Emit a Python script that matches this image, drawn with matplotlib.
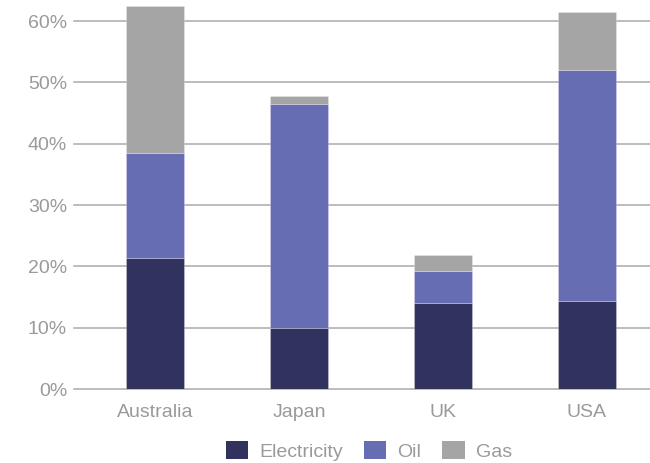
import matplotlib
matplotlib.use("Agg")
import matplotlib.pyplot as plt
import numpy as np
from matplotlib.ticker import FuncFormatter

countries = ["Australia", "Japan", "UK", "USA"]
electricity = [21.4, 9.9, 14.1, 14.3]
oil = [17.1, 36.5, 5.2, 37.7]
gas = [23.9, 1.3, 2.5, 9.5]
series_names = ["Electricity", "Oil", "Gas"]
colors = ["#31325e", "#666db2", "#a5a5a5"]
yticks = [0, 10, 20, 30, 40, 50, 60]

plt.rcParams['font.family'] = ['Liberation Sans', 'DejaVu Sans']

fig = plt.figure(figsize=(6.5, 4.63), dpi=100)
W, H = 650, 463
ax = fig.add_axes([74 / W, (H - 389) / H, (650 - 74) / W, 389 / H])

x = np.arange(len(countries))
bottom = np.zeros(len(countries))
for name, vals, c in zip(series_names, [electricity, oil, gas], colors):
    ax.bar(x, vals, width=0.396, bottom=bottom, color=c, label=name,
           edgecolor=(1, 1, 1, 0.35), linewidth=0.5, zorder=3)
    bottom += np.array(vals)

ax.set_xlim(-0.5625, 3.4375)
ax.set_ylim(0, 63.43)
ax.set_yticks(yticks)
ax.yaxis.set_major_formatter(FuncFormatter(lambda v, p: f"{int(v)}%"))
ax.set_xticks(x)
ax.set_xticklabels(countries)
ax.grid(axis='y', color='#aaaaaa', linewidth=1.1, zorder=0)
for gl in ax.get_ygridlines():
    gl.set_clip_on(False)
ax.set_axisbelow(True)
for s in ax.spines.values():
    s.set_visible(False)
ax.tick_params(axis='both', length=0, labelsize=14, labelcolor='#9a9a9a')
ax.tick_params(axis='y', pad=5)
ax.tick_params(axis='x', pad=11)

leg = fig.legend(loc='center', bbox_to_anchor=(369 / W, (H - 451) / H), ncol=3,
                 frameon=False, fontsize=14, handlelength=1.15, handleheight=1.0,
                 handletextpad=0.57, columnspacing=1.08, borderaxespad=0)
for t in leg.get_texts():
    t.set_color('#9a9a9a')
for h in leg.legend_handles:
    h.set_edgecolor('none')

fig.savefig("out.png", dpi=100)
